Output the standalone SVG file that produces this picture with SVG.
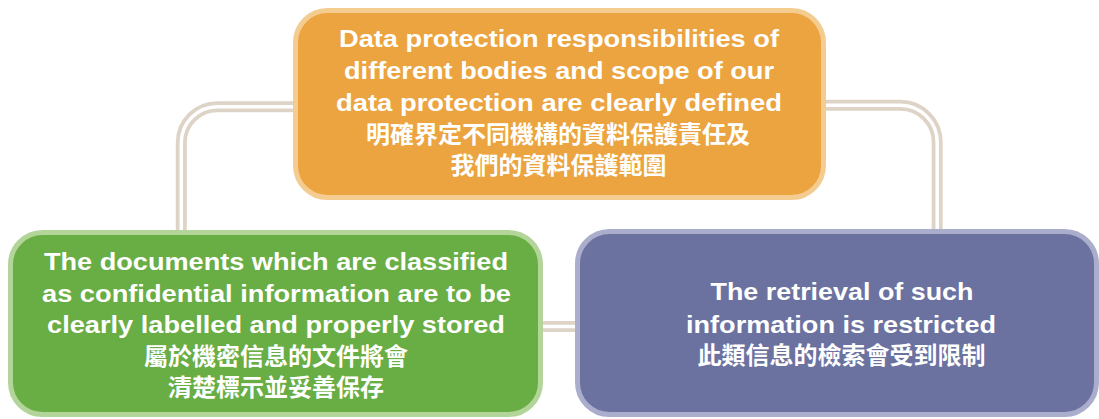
<svg xmlns="http://www.w3.org/2000/svg" width="1099" height="419" viewBox="0 0 1099 419">
<style>
.c-out{fill:none;stroke:#ddd3c6;stroke-width:11}
.c-in{fill:none;stroke:#ffffff;stroke-width:3.5}
.en{font-family:"Liberation Sans",Arial,sans-serif;font-weight:bold;font-size:24px;fill:#ffffff;text-anchor:middle}
.zh{font-family:"Liberation Sans","Noto Sans CJK TC",sans-serif;font-weight:bold;font-size:24px;fill:#ffffff;text-anchor:middle}
</style>
<rect width="1099" height="419" fill="#ffffff"/>
<g id="connectors">
  <path class="c-out" d="M300,106.7 H217.3 A36,36 0 0 0 181.3,142.7 V236"/>
  <path class="c-in" d="M300,106.7 H217.3 A36,36 0 0 0 181.3,142.7 V236"/>
  <path class="c-out" d="M820,105.3 H900.2 A37,37 0 0 1 937.2,142.3 V236"/>
  <path class="c-in" d="M820,105.3 H900.2 A37,37 0 0 1 937.2,142.3 V236"/>
  <path class="c-out" d="M538,326.5 H580"/>
  <path class="c-in" d="M538,326.5 H580"/>
</g>
<g id="node-top">
  <rect x="295.5" y="10.5" width="528" height="187" rx="32" fill="#eba43f" stroke="#f5cc90" stroke-width="5"/>
  <text class="en" x="559" y="47" textLength="440" lengthAdjust="spacingAndGlyphs">Data protection responsibilities of</text>
  <text class="en" x="559" y="79" textLength="430" lengthAdjust="spacingAndGlyphs">different bodies and scope of our</text>
  <text class="en" x="559" y="110.5" textLength="446" lengthAdjust="spacingAndGlyphs">data protection are clearly defined</text>
  <text class="zh" x="558" y="143">明確界定不同機構的資料保護責任及</text>
  <text class="zh" x="558.5" y="174">我們的資料保護範圍</text>
</g>
<g id="node-left">
  <rect x="10.5" y="232.5" width="530" height="182" rx="32" fill="#69ad45" stroke="#b3d59a" stroke-width="5"/>
  <text class="en" x="276" y="269.5" textLength="464" lengthAdjust="spacingAndGlyphs">The documents which are classified</text>
  <text class="en" x="276.5" y="301.5" textLength="469" lengthAdjust="spacingAndGlyphs">as confidential information are to be</text>
  <text class="en" x="276" y="332.5" textLength="458" lengthAdjust="spacingAndGlyphs">clearly labelled and properly stored</text>
  <text class="zh" x="276" y="365">屬於機密信息的文件將會</text>
  <text class="zh" x="276" y="396">清楚標示並妥善保存</text>
</g>
<g id="node-right">
  <rect x="577.5" y="231.5" width="519" height="183" rx="32" fill="#6b72a0" stroke="#abadcc" stroke-width="5"/>
  <text class="en" x="842" y="299.5" textLength="263" lengthAdjust="spacingAndGlyphs">The retrieval of such</text>
  <text class="en" x="841" y="333" textLength="310" lengthAdjust="spacingAndGlyphs">information is restricted</text>
  <text class="zh" x="841.5" y="364">此類信息的檢索會受到限制</text>
</g>
</svg>
